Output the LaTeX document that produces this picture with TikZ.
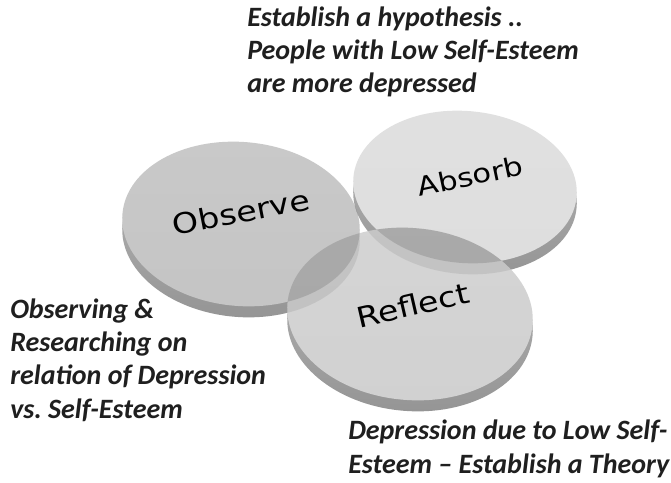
\documentclass[tikz,border=0pt]{standalone}
\usepackage{fontspec}
\newfontfamily\notefont{Carlito}
\newfontfamily\discfont{DejaVu Sans}
\definecolor{notegray}{gray}{0.12}
\tikzset{
    lens/.style={black, opacity=0.13},
    disclabel/.style={font=\discfont\fontsize{25}{30}\selectfont, text=black, yscale=0.85, transform shape, inner sep=0pt},
    note/.style={font=\notefont\bfseries\itshape\fontsize{21}{25}\selectfont, text=notegray, align=left, anchor=west, inner sep=0pt}
}

\begin{document}
\begin{tikzpicture}[x=0.75pt, y=-0.75pt]
        \useasboundingbox (0,0) rectangle (671,482);
        \fill[white] (0,0) rectangle (671,482);
        % discs: centre x / centre y / radii / grey level of the face
        \foreach \cx/\cy/\rx/\ry/\lvl in {241/224/119/82/77, 465/187/112/76/87, 410/314/123/86/82} {
            \shade[top color=white!72!black, bottom color=white!58!black]
                (\cx,\cy+11) ellipse [x radius=\rx, y radius=\ry, rotate=-5];
            \shade[top color=white!\lvl!black!92!white, bottom color=white!\lvl!black]
                (\cx,\cy) ellipse [x radius=\rx, y radius=\ry, rotate=-5];
        }
        % see-through overlaps
        \begin{scope}
            \clip (410,314) ellipse [x radius=123, y radius=86, rotate=-5]
                  (410,325) ellipse [x radius=123, y radius=86, rotate=-5];
            \fill[lens] (241,224) ellipse [x radius=119, y radius=82, rotate=-5];
            \fill[lens, opacity=0.08] (241,235) ellipse [x radius=119, y radius=82, rotate=-5];
            \fill[lens] (465,187) ellipse [x radius=112, y radius=76, rotate=-5];
            \fill[lens, opacity=0.08] (465,198) ellipse [x radius=112, y radius=76, rotate=-5];
        \end{scope}
        \begin{scope}
            \clip (465,187) ellipse [x radius=112, y radius=76, rotate=-5]
                  (465,198) ellipse [x radius=112, y radius=76, rotate=-5];
            \fill[lens] (241,224) ellipse [x radius=119, y radius=82, rotate=-5];
            \fill[lens, opacity=0.08] (241,235) ellipse [x radius=119, y radius=82, rotate=-5];
        \end{scope}
        \node[rotate=11, disclabel] (observe) at (241,212) {Observe};
        \node[rotate=12, disclabel, font=\discfont\fontsize{23}{28}\selectfont] (absorb) at (470,176) {Absorb};
        \node[rotate=13, disclabel] (reflect) at (413,305) {Reflect};
        % notes
        \node[note] (hypothesis) at (247,52) {Establish a hypothesis ..\\People with Low Self-Esteem\\are more depressed};
        \node[note] (observing) at (10,360) {Observing \&\\Researching on\\relation of Depression\\vs.\ Self-Esteem};
        \node[note] (theory) at (348,449) {Depression due to Low Self-\\Esteem – Establish a Theory};
    \end{tikzpicture}
\end{document}
